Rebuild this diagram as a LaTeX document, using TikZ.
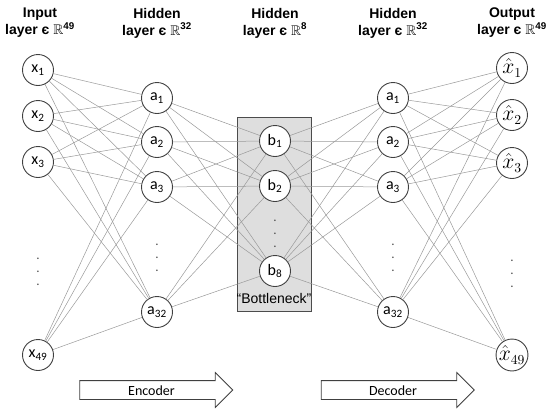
\documentclass[tikz,border=0pt]{standalone}
\usepackage{amssymb}
\usepackage{graphicx}
\usepackage{fontspec}
\setmainfont{Carlito}
\newfontfamily\headfont{Liberation Sans}
\usetikzlibrary{shapes.arrows, positioning}
\tikzstyle{neuron} = [circle, draw=black!75, line width=0.9pt, fill=white, minimum size=31pt, inner sep=0pt, font=\fontsize{16}{16}\selectfont]
\tikzstyle{conn} = [draw=black!40, line width=0.5pt]
\tikzstyle{head} = [align=center, inner sep=0pt, font=\headfont\bfseries\fontsize{14}{17}\selectfont]
\tikzstyle{vdots} = [align=center, inner sep=0pt, text=black!70, font=\fontsize{13}{13}\selectfont]
\tikzstyle{bigarrow} = [single arrow, draw=black!75, line width=0.8pt, fill=white, minimum height=153pt, single arrow head extend=8pt, text height=10pt, text depth=0pt, inner ysep=4pt, font=\fontsize{14}{14}\selectfont]
\newcommand{\xhat}[1]{\scalebox{1.25}{$\hat{x}_{#1}$}}

\begin{document}
\begin{tikzpicture}[x=1pt, y=-1pt]
        \useasboundingbox (0,0) rectangle (550,413);
        % bottleneck box
        \node[draw=black!70, line width=0.9pt, fill=black!13, minimum width=74pt, minimum height=194pt, inner sep=0pt] (neck) at (274,214) {};
        \node[font=\headfont\fontsize{14}{14}\selectfont, inner sep=0pt] (necklbl) at (274,298) {“Bottleneck”};

        % layer titles
        \node[head] (hin) at (40,23) {Input\\layer є $\mathbb{R}$\textsuperscript{49}};
        \node[head] (henc) at (157,23) {Hidden\\layer є $\mathbb{R}$\textsuperscript{32}};
        \node[head] (hmid) at (275,23) {Hidden\\layer є $\mathbb{R}$\textsuperscript{8}};
        \node[head] (hdec) at (393,23) {Hidden\\layer є $\mathbb{R}$\textsuperscript{32}};
        \node[head] (hout) at (512,23) {Output\\layer є $\mathbb{R}$\textsuperscript{49}};

        % input layer
        \node[neuron] (x1) at (38,70) {x\textsubscript{1}};
        \node[neuron] (x2) at (38,116) {x\textsubscript{2}};
        \node[neuron] (x3) at (38,162) {x\textsubscript{3}};
        \node[vdots] (xd) at (38,272) {.\\.\\.};
        \node[neuron] (x49) at (38,355) {x\textsubscript{49}};

        % encoder hidden layer
        \node[neuron] (a1) at (157,98) {a\textsubscript{1}};
        \node[neuron] (a2) at (157,142) {a\textsubscript{2}};
        \node[neuron] (a3) at (157,187) {a\textsubscript{3}};
        \node[vdots] (ad) at (157,258) {.\\.\\.};
        \node[neuron] (a32) at (157,312) {a\textsubscript{32}};

        % code layer
        \node[neuron] (b1) at (275,141) {b\textsubscript{1}};
        \node[neuron] (b2) at (275,186) {b\textsubscript{2}};
        \node[vdots] (bd) at (275,234) {.\\.\\.};
        \node[neuron] (b8) at (275,271) {b\textsubscript{8}};

        % decoder hidden layer
        \node[neuron] (d1) at (393,98) {a\textsubscript{1}};
        \node[neuron] (d2) at (393,142) {a\textsubscript{2}};
        \node[neuron] (d3) at (393,187) {a\textsubscript{3}};
        \node[vdots] (dd) at (393,258) {.\\.\\.};
        \node[neuron] (d32) at (393,312) {a\textsubscript{32}};

        % output layer
        \node[neuron] (y1) at (512,68) {\xhat{1}};
        \node[neuron] (y2) at (512,115) {\xhat{2}};
        \node[neuron] (y3) at (512,163) {\xhat{3}};
        \node[vdots] (yd) at (512,274) {.\\.\\.};
        \node[neuron] (y49) at (512,355) {\xhat{49}};

        % connections
        \foreach \i in {x1,x2,x3,x49}
            \foreach \j in {a1,a2,a3,a32}
                \draw[conn] (\i) -- (\j);
        \foreach \i in {a1,a2,a3,a32}
            \foreach \j in {b1,b2,b8}
                \draw[conn] (\i) -- (\j);
        \foreach \i in {b1,b2,b8}
            \foreach \j in {d1,d2,d3,d32}
                \draw[conn] (\i) -- (\j);
        \foreach \i in {d1,d2,d3,d32}
            \foreach \j in {y1,y2,y3,y49}
                \draw[conn] (\i) -- (\j);

        % direction arrows
        \node[bigarrow] (enc) at (151.5,390) {Encoder};
        \node[bigarrow] (dec) at (393,390) {Decoder};
    \end{tikzpicture}
\end{document}
